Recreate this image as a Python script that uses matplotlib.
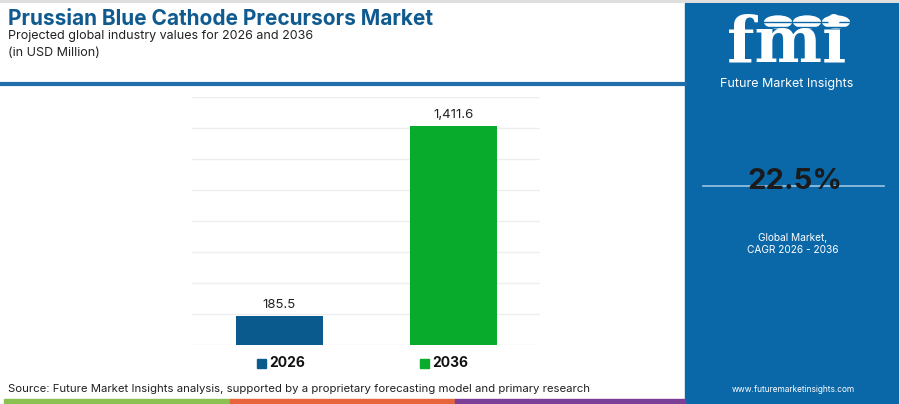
import matplotlib.pyplot as plt
from matplotlib.patches import Rectangle, Circle
from matplotlib.lines import Line2D

# data
years = ['2026', '2036']
values = [185.5, 1411.6]
labels = ['185.5', '1,411.6']
colors = ['#0b5a8e', '#08ab2c']
yticks = [0, 200, 400, 600, 800, 1000, 1200, 1400, 1600]
cagr = '22.5%'

plt.rcParams['font.family'] = ['Inter', 'DejaVu Sans']

W, H = 900, 404
fig = plt.figure(figsize=(9, 4.04), dpi=100)
fig.patch.set_facecolor('white')

def fx(x):
    return x / W

def fy(y):
    return 1 - y / H

# right panel
panel_blue = '#0a67a8'
fig.patches.append(Rectangle((fx(685), 0), fx(213), fy(3), transform=fig.transFigure,
                             color=panel_blue, zorder=0))
# top grey border
fig.lines.append(Line2D([0, 1], [fy(1), fy(1)], transform=fig.transFigure,
                        color='#dddddd', lw=2))
# header blue line
fig.lines.append(Line2D([0, fx(685)], [fy(84), fy(84)], transform=fig.transFigure,
                        color='#1f6dab', lw=3))

# titles
fig.text(fx(8), fy(19), 'Prussian Blue Cathode Precursors Market', fontsize=15,
         fontweight='bold', color='#0f5a8f', va='center', ha='left')
fig.text(fx(8), fy(36), 'Projected global industry values for 2026 and 2036',
         fontsize=9, color='#222222', va='center', ha='left')
fig.text(fx(8), fy(53), '(in USD Million)', fontsize=9, color='#222222',
         va='center', ha='left')

# chart
ax = fig.add_axes([fx(192), fy(345), fx(348), (345 - 97) / H])
x = [0, 1]
ax.bar(x, values, width=0.5, color=colors, zorder=3)
for xi, v, lab in zip(x, values, labels):
    ax.text(xi, v + 35, lab, ha='center', va='bottom', fontsize=9.5, color='#222222')
ax.set_xlim(-0.5, 1.5)
ax.set_ylim(0, 1600)
ax.set_yticks(yticks)
ax.yaxis.grid(True, color='#eeeeee', lw=1)
ax.set_xticks([])
ax.tick_params(left=False, labelleft=False)
for s in ax.spines.values():
    s.set_visible(False)

# legend
for (lx, yr, c) in [(257, years[0], colors[0]), (420, years[1], colors[1])]:
    fig.patches.append(Rectangle((fx(lx), fy(368)), fx(9), 9 / H, transform=fig.transFigure,
                                 color=c))
    fig.text(fx(lx + 12), fy(363), yr, fontsize=10, fontweight='bold', color='#111111',
             va='center', ha='left')

# source
fig.text(fx(8), fy(389), 'Source: Future Market Insights analysis, supported by a proprietary '
         'forecasting model and primary research', fontsize=8.2, color='#222222',
         va='center', ha='left')

# bottom colour strip
for x0, x1, c in [(4, 230, '#8cc152'), (230, 455, '#e8643c'), (455, 685, '#7b3f98')]:
    fig.patches.append(Rectangle((fx(x0), 0), fx(x1 - x0), 5 / H, transform=fig.transFigure,
                                 color=c))

# logo
fig.text(fx(787), fy(44), 'fmi', fontsize=46, fontweight='bold', family='DejaVu Serif',
         color='white', ha='center', va='center')
for yy in range(22, 72, 5):
    fig.lines.append(Line2D([fx(715), fx(860)], [fy(yy), fy(yy)], transform=fig.transFigure,
                            color=panel_blue, lw=1))
for cx in [778, 807, 836]:
    fig.patches.append(Circle((fx(cx), fy(22)), 6 / H, transform=fig.transFigure,
                              color='white'))
fig.text(fx(787), fy(84), 'Future Market Insights', fontsize=9, color='white',
         ha='center', va='center')

# cagr
fig.lines.append(Line2D([fx(703), fx(884)], [fy(186), fy(186)], transform=fig.transFigure,
                        color='#9cc5e6', lw=1.2))
fig.text(fx(795), fy(182), cagr, fontsize=21, fontweight='bold', color='#1a1a1a',
         ha='center', va='center')
fig.text(fx(793), fy(238), 'Global Market,', fontsize=7.3, color='white', ha='center',
         va='center')
fig.text(fx(793), fy(250), 'CAGR 2026 - 2036', fontsize=7.3, color='white', ha='center',
         va='center')
fig.text(fx(793), fy(389), 'www.futuremarketinsights.com', fontsize=6, color='white',
         ha='center', va='center')

fig.savefig('out.png', dpi=100)
